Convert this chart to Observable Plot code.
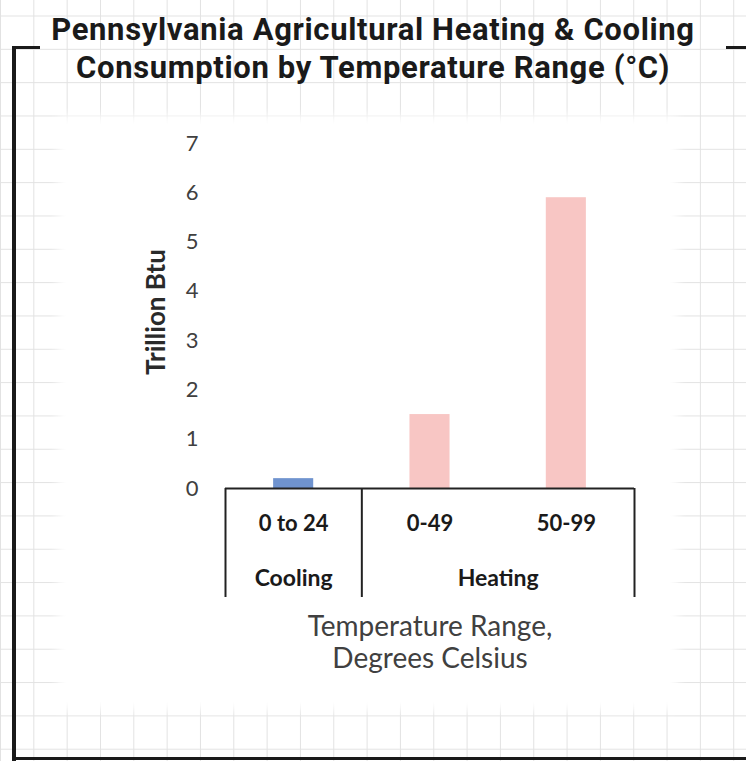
<!DOCTYPE html>
<html>
<head>
<meta charset="utf-8">
<script src="https://cdn.jsdelivr.net/npm/d3@7"></script>
<script src="https://cdn.jsdelivr.net/npm/@observablehq/plot@0.6"></script>
<style>
  html, body { margin: 0; padding: 0; background: #fff; }
  #page {
    position: relative; width: 746px; height: 761px; overflow: hidden;
    background-color: #fff;
    background-image:
      linear-gradient(to right, #e2e2e2 1px, transparent 1px),
      linear-gradient(to bottom, #e2e2e2 1px, transparent 1px);
    background-size: 33.33px 33.33px;
    background-position: 0 15.5px;
  }
  #paper {
    position: absolute; left: 66px; top: 124px; width: 604px; height: 578px;
    background: #fff; box-shadow: 0 0 10px 8px #fff;
  }
  .frame { position: absolute; background: #1a1a1a; }
  #title {
    position: absolute; left: 0; top: 11px; width: 746px; text-align: center;
    font-family: Roboto, sans-serif; font-weight: 700; font-size: 31px; line-height: 38px;
    color: #1a1a1a; letter-spacing: 0.65px;
  }
  #chart { position: absolute; left: 0; top: 100px; }
</style>
</head>
<body>
<div id="page">
  <div id="paper"></div>
  <div class="frame" style="left:12px; top:47px; width:4px; height:714px;"></div>
  <div class="frame" style="left:12px; top:46px; width:28px; height:3px;"></div>
  <div class="frame" style="left:726px; top:46px; width:20px; height:3px;"></div>
  <div class="frame" style="left:12px; top:757px; width:734px; height:3px;"></div>
  <div id="title">Pennsylvania Agricultural Heating &amp; Cooling<br>Consumption by Temperature Range (°C)</div>
  <div id="chart"></div>
</div>
<script>
// ---- data ----
const categories = ["0 to 24", "0-49", "50-99"];
const groups = ["Cooling", "Heating", "Heating"];
const values = [0.2, 1.5, 5.9];
const yTicks = [0, 1, 2, 3, 4, 5, 6, 7];
const groupColors = {Cooling: "#6f93cf", Heating: "#f8c6c4"};

const data = categories.map((c, i) => ({i, category: c, group: groups[i], value: values[i]}));

// group spans (index ranges) derived from the groups list
const groupSpans = [];
groups.forEach((g, i) => {
  const last = groupSpans[groupSpans.length - 1];
  if (last && last.group === g) last.end = i; else groupSpans.push({group: g, start: i, end: i});
});
const boundaries = [groupSpans[0].start - 0.5, ...groupSpans.map(s => s.end + 0.5)];

const barHalf = 0.147;

const chart = Plot.plot({
  width: 746,
  height: 661,
  marginTop: 43,
  marginBottom: 273,
  marginLeft: 225,
  marginRight: 112,
  style: {fontFamily: "Lato, sans-serif", fontSize: "22px", color: "#404040", background: "transparent", overflow: "visible"},
  x: {type: "linear", domain: [-0.5, categories.length - 0.5], axis: null},
  y: {domain: [0, 7], ticks: yTicks, tickSize: 0, tickPadding: 27, label: null, tickFormat: d3.format("d")},
  marks: [
    Plot.rectY(data, {x1: d => d.i - barHalf, x2: d => d.i + barHalf, y: "value", fill: d => groupColors[d.group]}),
    Plot.ruleY([0], {stroke: "#222", strokeWidth: 2}),
    Plot.ruleX(boundaries, {y1: 0, y2: 0, insetBottom: -109, stroke: "#222", strokeWidth: 2}),
    Plot.text(data, {x: "i", y: 0, text: "category", dy: 35, fontWeight: "bold", fontSize: 22, fill: "#1a1a1a"}),
    Plot.text(groupSpans, {x: d => (d.start + d.end) / 2, y: 0, text: "group", dy: 90, fontWeight: "bold", fontSize: 23, fill: "#1a1a1a"}),
    Plot.text(["Temperature Range,\nDegrees Celsius"], {frameAnchor: "bottom", dy: 153, lineAnchor: "middle", lineHeight: 1.17, fontSize: 28, letterSpacing: 1, fill: "#404040"}),
    Plot.text(["Trillion Btu"], {frameAnchor: "left", textAnchor: "middle", rotate: -90, dx: -69, dy: -4, fontSize: 26, fontWeight: "bold", letterSpacing: 0.5, fill: "#2a2a2a"})
  ]
});
chart.querySelectorAll("text").forEach(t => { if (t.getAttribute("letter-spacing")) t.style.letterSpacing = t.getAttribute("letter-spacing") + "px"; });
document.getElementById("chart").appendChild(chart);
</script>
</body>
</html>
